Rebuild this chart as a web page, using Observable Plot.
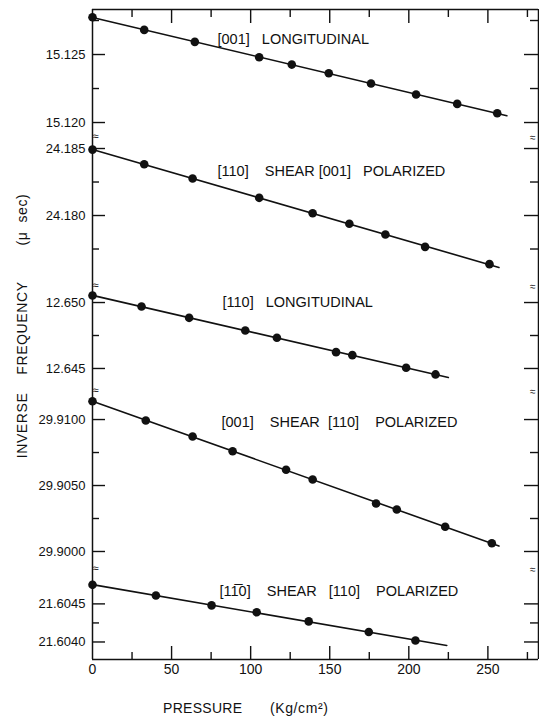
<!DOCTYPE html>
<html><head><meta charset="utf-8">
<script src="https://cdn.jsdelivr.net/npm/d3@7"></script>
<script src="https://cdn.jsdelivr.net/npm/@observablehq/plot@0.6"></script>
<style>
body{margin:0;background:#fff;}
#wrap{position:relative;width:539px;height:717px;background:#fff;font-family:"Liberation Sans",Arial,sans-serif;color:#111;overflow:hidden;}
#wrap svg{position:absolute;left:0;}
.ttl{position:absolute;white-space:pre;font-size:14px;color:#111;line-height:1;}
</style></head><body><div id="wrap"></div>
<script>
// ---------- data ----------
const xTickValues = [0, 50, 100, 150, 200, 250];
const xTickLabels = ["0", "50", "100", "150", "200", "250"];
const xMajorTicks = [50, 100, 150, 200, 250];
const xMinorTicks = [25, 75, 125, 175, 225, 275];
const xDomain = [0, 282];

// [001] longitudinal
const p1Pressure = [0, 32.7, 64.7, 105.4, 126, 149.4, 176.1, 204.6, 230.6, 255.9];
const p1Value = [15.12774, 15.12681, 15.12593, 15.1248, 15.12426, 15.12362, 15.12287, 15.12206, 15.12137, 15.12068];
const p1TickValues = [15.125, 15.120];
const p1TickLabels = ["15.125", "15.120"];
const p1Minor = [15.1275, 15.1225];
const p1Domain = [15.11934, 15.12831];

// [110] shear [001] polarized
const p2Pressure = [0, 32.7, 63.3, 105.4, 139.2, 162.4, 185.2, 210.3, 251.0];
const p2Value = [24.18492, 24.18383, 24.18276, 24.18132, 24.18017, 24.17938, 24.17858, 24.17766, 24.17637];
const p2TickValues = [24.185, 24.180];
const p2TickLabels = ["24.185", "24.180"];
const p2Minor = [24.1825, 24.1775];
const p2Domain = [24.17515, 24.18627];

// [110] longitudinal
const p3Pressure = [0, 31, 61.1, 96.6, 116.6, 154, 164.3, 198.3, 216.9];
const p3Value = [12.65053, 12.6497, 12.64884, 12.64788, 12.64733, 12.64624, 12.64601, 12.64505, 12.64455];
const p3TickValues = [12.650, 12.645];
const p3TickLabels = ["12.650", "12.645"];
const p3Minor = [12.6475];
const p3Domain = [12.64371, 12.65167];

// [001] shear [110] polarized
const p4Pressure = [0, 33.7, 63.3, 88.6, 122.4, 139.2, 179.3, 192.4, 223, 252.5];
const p4Value = [29.91139, 29.90993, 29.90872, 29.9076, 29.90619, 29.90546, 29.90364, 29.90318, 29.90187, 29.90063];
const p4TickValues = [29.9100, 29.9050, 29.9000];
const p4TickLabels = ["29.9100", "29.9050", "29.9000"];
const p4Minor = [29.9075, 29.9025];
const p4Domain = [29.89909, 29.91258];

// [1-10] shear [110] polarized
const p5Pressure = [0, 40.1, 75.3, 103.8, 136.7, 174.7, 204.2];
const p5Value = [21.60475, 21.60461, 21.60448, 21.60439, 21.60427, 21.60413, 21.60402];
const p5TickValues = [21.6045, 21.6040];
const p5TickLabels = ["21.6045", "21.6040"];
const p5Minor = [21.60425];
const p5Domain = [21.60377, 21.60503];

const lineEnds = [262, 257, 225, 257, 224];
const panelLabels = [
  "[001]\u00a0\u00a0\u00a0LONGITUDINAL",
  "[110]\u00a0\u00a0\u00a0\u00a0SHEAR\u00a0[001]\u00a0\u00a0\u00a0POLARIZED",
  "[110]\u00a0\u00a0\u00a0LONGITUDINAL",
  "[001]\u00a0\u00a0\u00a0\u00a0SHEAR\u00a0\u00a0[110]\u00a0\u00a0\u00a0\u00a0POLARIZED",
  "[11\u03050]\u00a0\u00a0\u00a0\u00a0SHEAR\u00a0\u00a0\u00a0[110]\u00a0\u00a0\u00a0\u00a0POLARIZED"
];

// ---------- layout ----------
const W = 539, ML = 92, MR = 1;
const FW = W - ML - MR;
const frames = [[9, 131], [131, 280], [280, 385], [385, 563], [563, 659]];
const labelOffsets = [[125, 24], [125, 34], [130, 16], [129, 31], [127, 22]];
const ink = "#111";

const panels = [
  {pressure: p1Pressure, value: p1Value, ticks: p1TickValues, labels: p1TickLabels, minor: p1Minor, domain: p1Domain},
  {pressure: p2Pressure, value: p2Value, ticks: p2TickValues, labels: p2TickLabels, minor: p2Minor, domain: p2Domain},
  {pressure: p3Pressure, value: p3Value, ticks: p3TickValues, labels: p3TickLabels, minor: p3Minor, domain: p3Domain},
  {pressure: p4Pressure, value: p4Value, ticks: p4TickValues, labels: p4TickLabels, minor: p4Minor, domain: p4Domain},
  {pressure: p5Pressure, value: p5Value, ticks: p5TickValues, labels: p5TickLabels, minor: p5Minor, domain: p5Domain}
];

const wrap = document.getElementById("wrap");

panels.forEach((cfg, k) => {
  const isTop = k === 0, isBottom = k === panels.length - 1;
  const [ft, fb] = frames[k];
  const FH = fb - ft;
  const mt = 6, mb = isBottom ? 34 : 6;
  const data = cfg.pressure.map((p, i) => ({p, v: cfg.value[i]}));
  const mx = d3.mean(data, d => d.p), my = d3.mean(data, d => d.v);
  const slope = d3.sum(data, d => (d.p - mx) * (d.v - my)) / d3.sum(data, d => (d.p - mx) ** 2);
  const icpt = my - slope * mx;
  const fit = [0, lineEnds[k]].map(p => ({p, v: icpt + slope * p}));
  const labelMap = new Map(cfg.ticks.map((t, i) => [t, cfg.labels[i]]));

  const marks = [
    Plot.ruleX(xDomain, {stroke: ink, strokeWidth: 1.5}),
    Plot.tickY(cfg.ticks, {y: d => d, insetRight: FW - 13, stroke: ink, strokeWidth: 1.4}),
    Plot.tickY(cfg.minor, {y: d => d, insetRight: FW - 7, stroke: ink, strokeWidth: 1.4}),
    Plot.tickY(cfg.ticks, {y: d => d, insetLeft: FW - 14, stroke: ink, strokeWidth: 1.4}),
    Plot.tickY(cfg.minor, {y: d => d, insetLeft: FW - 8, stroke: ink, strokeWidth: 1.4}),
    Plot.axisY({ticks: cfg.ticks, anchor: "left", tickSize: 0, tickPadding: 7, tickFormat: d => labelMap.get(d), fontSize: 13, label: null, fill: ink}),
    Plot.line(fit, {x: "p", y: "v", stroke: ink, strokeWidth: 1.6}),
    Plot.dot(data, {x: "p", y: "v", r: 4.3, fill: ink, stroke: "none"}),
    Plot.text([panelLabels[k]], {frameAnchor: "top-left", dx: labelOffsets[k][0], dy: labelOffsets[k][1], textAnchor: "start", fontSize: 14.5, fill: ink})
  ];
  if (!isTop) {
    marks.push(Plot.text(["\u2248"], {frameAnchor: "top-left", dy: 1, fontSize: 11, fill: ink}));
    marks.push(Plot.text(["\u2248"], {frameAnchor: "top-right", dx: -3, dy: 2, fontSize: 10, fill: ink}));
  }
  if (isTop) {
    marks.push(Plot.ruleY([cfg.domain[1]], {stroke: ink, strokeWidth: 1.5}));
    marks.push(Plot.tickX(xMajorTicks, {x: d => d, insetBottom: FH - 14, stroke: ink, strokeWidth: 1.4}));
    marks.push(Plot.tickX(xMinorTicks, {x: d => d, insetBottom: FH - 8, stroke: ink, strokeWidth: 1.4}));
  }
  if (isBottom) {
    marks.push(Plot.ruleY([cfg.domain[0]], {stroke: ink, strokeWidth: 1.5}));
    marks.push(Plot.tickX(xMajorTicks, {x: d => d, insetTop: FH - 13, stroke: ink, strokeWidth: 1.4}));
    marks.push(Plot.tickX(xMinorTicks, {x: d => d, insetTop: FH - 7, stroke: ink, strokeWidth: 1.4}));
    const xl = new Map(xTickValues.map((t, i) => [t, xTickLabels[i]]));
    marks.push(Plot.axisX({ticks: xTickValues, anchor: "bottom", tickSize: 0, tickPadding: 5, tickFormat: d => xl.get(d), fontSize: 14, label: null, fill: ink}));
  }

  const svg = Plot.plot({
    width: W,
    height: mt + FH + mb,
    marginLeft: ML, marginRight: MR, marginTop: mt, marginBottom: mb,
    x: {domain: xDomain, axis: isBottom ? undefined : null},
    y: {domain: cfg.domain},
    style: {background: "transparent", overflow: "visible", fontFamily: "'Liberation Sans', Arial, sans-serif", color: ink},
    marks
  });
  svg.style.top = (ft - mt) + "px";
  wrap.appendChild(svg);
});

// axis titles (outside the SVGs)
const yTitle = document.createElement("div");
yTitle.className = "ttl";
yTitle.textContent = "INVERSE\u00a0\u00a0\u00a0\u00a0FREQUENCY\u00a0\u00a0\u00a0\u00a0\u00a0\u00a0\u00a0\u00a0(\u03bc\u00a0\u00a0sec)";
yTitle.style.cssText = "left:22px;top:326px;transform:translate(-50%,-50%) rotate(-90deg);letter-spacing:0.6px;";
wrap.appendChild(yTitle);

const xTitle1 = document.createElement("div");
xTitle1.className = "ttl";
xTitle1.textContent = "PRESSURE";
xTitle1.style.cssText = "left:163px;top:701px;letter-spacing:0.3px;";
wrap.appendChild(xTitle1);

const xTitle2 = document.createElement("div");
xTitle2.className = "ttl";
xTitle2.textContent = "(Kg/cm\u00b2)";
xTitle2.style.cssText = "left:270px;top:701px;letter-spacing:0.6px;";
wrap.appendChild(xTitle2);
</script>
</body></html>
